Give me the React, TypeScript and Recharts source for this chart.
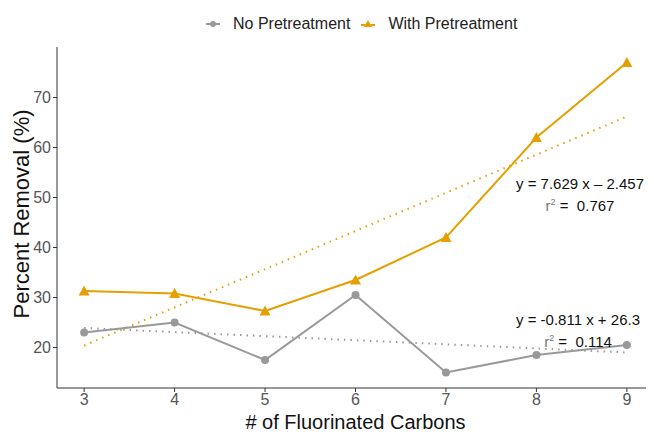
import React from 'react';
import { LineChart, Line, XAxis, YAxis } from 'recharts';

const carbons = [3, 4, 5, 6, 7, 8, 9];
const noPretreatment = [23, 25, 17.5, 30.5, 15, 18.5, 20.5];
const withPretreatment = [31.3, 30.8, 27.3, 33.5, 42, 62, 77];

// fitted trend lines, read at x = 3 and x = 9
const trendX = [3, 9];
const noTrend = [23.9, 19.0];
const withTrend = [20.4, 66.2];

const yTicks = [20, 30, 40, 50, 60, 70];

const GREY = '#999999';
const ORANGE = '#E69F00';
const FONT = '"Liberation Sans", Arial, sans-serif';

const seriesData = carbons.map((c, i) => ({
    x: c,
    no: noPretreatment[i],
    with: withPretreatment[i],
}));
const noTrendData = trendX.map((x, i) => ({ x, v: noTrend[i] }));
const withTrendData = trendX.map((x, i) => ({ x, v: withTrend[i] }));

const Triangle = (props: any) => {
    const { cx, cy } = props;
    if (cx == null || cy == null) return null;
    const s = 5.5;
    return (
        <path
            key={`t-${cx}`}
            d={`M${cx},${cy - s} L${cx + s},${cy + s * 0.8} L${cx - s},${cy + s * 0.8} Z`}
            fill={ORANGE}
        />
    );
};

const YTitle = (props: any) => (
    <text
        x={13}
        y={206}
        transform='rotate(-90 13 206)'
        textAnchor='middle'
        dominantBaseline='central'
        fill='#111'
        fontSize={22}
        fontFamily={FONT}
    >
        Percent Removal (%)
    </text>
);

const LegendBox = () => (
    <div
        style={{
            position: 'absolute',
            left: 195,
            top: 7,
            display: 'flex',
            alignItems: 'center',
            fontFamily: FONT,
            fontSize: 16,
            color: '#222',
            whiteSpace: 'nowrap',
        }}
    >
        <svg width={20} height={12}>
            <line x1={3} y1={6} x2={17} y2={6} stroke={GREY} strokeWidth={2} />
            <circle cx={10} cy={6} r={3} fill={GREY} />
        </svg>
        <span style={{ marginLeft: 10, marginRight: 8 }}>No Pretreatment</span>
        <svg width={20} height={12}>
            <line x1={3} y1={7} x2={17} y2={7} stroke={ORANGE} strokeWidth={2} />
            <path d='M10,2 L14,9 L6,9 Z' fill={ORANGE} />
        </svg>
        <span style={{ marginLeft: 10 }}>With Pretreatment</span>
    </div>
);

const note = (x: number, y: number, eq: string, r2: string) => (
    <div
        style={{
            position: 'absolute',
            left: x,
            top: y,
            transform: 'translateX(-50%)',
            fontFamily: FONT,
            fontSize: 15,
            color: '#111',
            textAlign: 'center',
            lineHeight: '19px',
            whiteSpace: 'nowrap',
        }}
    >
        <div>{eq}</div>
        <div>
            <span style={{ color: '#777' }}>
                r<sup style={{ fontSize: 9 }}>2</sup>
            </span>{' '}
            =&nbsp; {r2}
        </div>
    </div>
);

const App = () => {
    return (
        <div style={{ position: 'relative', width: 646, height: 424 }}>
            <LineChart
                width={646}
                height={424}
                data={seriesData}
                margin={{ top: 39, right: 0, left: 0, bottom: 0 }}
            >
                <XAxis
                    dataKey='x'
                    type='number'
                    domain={[2.7, 9.3]}
                    ticks={carbons}
                    allowDataOverflow
                    height={44}
                    stroke='#333'
                    tickSize={4}
                    tick={{ fill: '#555', fontSize: 16, fontFamily: FONT }}
                    label={{
                        value: '# of Fluorinated Carbons',
                        position: 'insideBottom',
                        offset: 3,
                        fill: '#111',
                        fontSize: 20,
                        fontFamily: FONT,
                    }}
                />
                <YAxis
                    type='number'
                    domain={[11.9, 80.1]}
                    ticks={yTicks}
                    allowDataOverflow
                    width={49}
                    stroke='#333'
                    tickSize={4}
                    tick={{ fill: '#555', fontSize: 16, fontFamily: FONT }}
                    label={<YTitle />}
                />
                <Line
                    data={noTrendData}
                    dataKey='v'
                    stroke={GREY}
                    strokeWidth={2}
                    strokeDasharray='1.5 5'
                    dot={false}
                    isAnimationActive={false}
                />
                <Line
                    data={withTrendData}
                    dataKey='v'
                    stroke={ORANGE}
                    strokeWidth={2}
                    strokeDasharray='1.5 5'
                    dot={false}
                    isAnimationActive={false}
                />
                <Line
                    dataKey='no'
                    stroke={GREY}
                    strokeWidth={2}
                    dot={{ r: 4, fill: GREY, stroke: 'none' }}
                    isAnimationActive={false}
                />
                <Line
                    dataKey='with'
                    stroke={ORANGE}
                    strokeWidth={2}
                    dot={<Triangle />}
                    isAnimationActive={false}
                />
            </LineChart>
            <LegendBox />
            {note(572, 166, 'y = 7.629 x \u2013 2.457', '0.767')}
            {note(570, 302, 'y = -0.811 x + 26.3', '0.114')}
        </div>
    );
};

export default App;
